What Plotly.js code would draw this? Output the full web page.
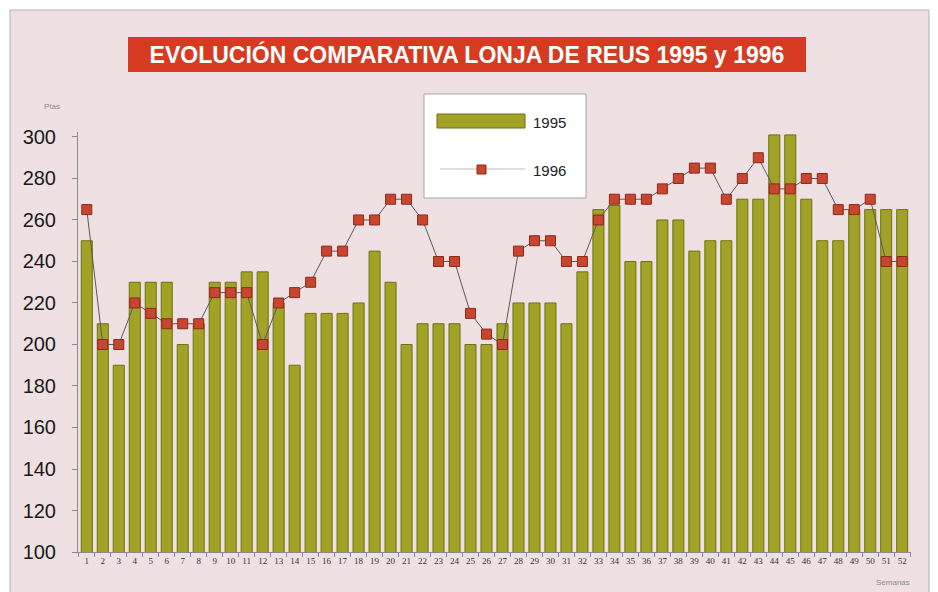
<!DOCTYPE html>
<html>
<head>
<meta charset="utf-8">
<script src="https://cdn.plot.ly/plotly-3.0.1.min.js"></script>
<style>html,body{margin:0;padding:0;background:#fff;}#chart{width:938px;height:592px;}</style>
</head>
<body>
<div id="chart"></div>
<script>
const semanas = Array.from({length: 52}, (_, i) => String(i + 1));
const precios1995 = [250,210,190,230,230,230,200,210,230,230,235,235,220,190,215,215,215,220,245,230,
  200,210,210,210,200,200,210,220,220,220,210,235,265,267,240,240,260,260,245,250,
  250,270,270,301,301,270,250,250,265,265,265,265];
const precios1996 = [265,200,200,220,215,210,210,210,225,225,225,200,220,225,230,245,245,260,260,270,
  270,260,240,240,215,205,200,245,250,250,240,240,260,270,270,270,275,280,285,285,
  270,280,290,275,275,280,280,265,265,270,240,240];
const yTicks = [100,120,140,160,180,200,220,240,260,280,300];
const titulo = 'EVOLUCIÓN COMPARATIVA LONJA DE REUS 1995 y 1996';
const serie1 = '1995', serie2 = '1996';

// pixel -> paper helpers (plot area: x 78..911, y 132..552)
const L = 78, R = 27, T = 132, B = 40, W = 938, H = 592;
const pw = W - L - R, ph = H - T - B;
const px = x => (x - L) / pw;
const py = y => (H - B - y) / ph;

const barColor = '#a2a326', barLine = '#6f7012';
const markColor = '#c9452d', markLine = '#8a2b1b';

const traces = [
  {type: 'bar', name: serie1, x: semanas, y: precios1995,
   marker: {color: barColor, line: {color: barLine, width: 1}}, showlegend: false, hoverinfo: 'x+y'},
  {type: 'scatter', mode: 'lines+markers', name: serie2, x: semanas, y: precios1996,
   line: {color: '#5a5a5a', width: 1},
   marker: {symbol: 'square', size: 10, color: markColor, line: {color: markLine, width: 1}},
   showlegend: false, cliponaxis: false}
];

const layout = {
  width: W, height: H,
  margin: {l: L, r: R, t: T, b: B},
  paper_bgcolor: '#ffffff', plot_bgcolor: 'rgba(0,0,0,0)',
  bargap: 0.31,
  title: {text: '<b>' + titulo + '</b>', x: 467 / W, xanchor: 'center', y: 1 - 55 / H, yanchor: 'middle',
    font: {family: 'Liberation Sans Narrow, Arial Narrow, Liberation Sans, Arial, sans-serif', size: 23, color: '#ffffff'}},
  xaxis: {type: 'category', range: [-0.55, 51.55], tickson: 'boundaries', ticks: 'outside', ticklen: 4,
    tickcolor: '#8a8aa8', showline: true, linecolor: '#8a8a8a', linewidth: 1, showgrid: false, zeroline: false,
    tickfont: {family: 'Liberation Serif, DejaVu Serif, serif', size: 9, color: '#333'}, tickangle: 0,
    fixedrange: true},
  yaxis: {range: [100, 302.4], tickvals: yTicks, ticktext: yTicks.map(String), ticks: 'outside', ticklen: 5,
    tickcolor: '#8a8a8a', showline: true, linecolor: '#8a8a8a', linewidth: 1, showgrid: false, zeroline: false,
    ticklabelstandoff: 12,
    tickfont: {family: 'Liberation Sans, Arial, sans-serif', size: 20, color: '#1a1a1a'}, fixedrange: true},
  shapes: [
    // pink panel
    {type: 'rect', xref: 'paper', yref: 'paper', x0: px(10), x1: px(929), y0: py(594), y1: py(10),
     fillcolor: '#efe1e3', line: {color: '#b9aeb0', width: 1}, layer: 'below'},
    // title box
    {type: 'rect', xref: 'paper', yref: 'paper', x0: px(128), x1: px(806), y0: py(72), y1: py(37),
     fillcolor: '#d63b21', line: {width: 0}, layer: 'below'},
    // legend box
    {type: 'rect', xref: 'paper', yref: 'paper', x0: px(424), x1: px(586), y0: py(198), y1: py(94),
     fillcolor: '#ffffff', line: {color: '#a5a5a5', width: 1}, layer: 'above'},
    // legend bar swatch
    {type: 'rect', xref: 'paper', yref: 'paper', x0: px(437), x1: px(525), y0: py(128), y1: py(114),
     fillcolor: barColor, line: {color: barLine, width: 1}, layer: 'above'},
    // legend line swatch
    {type: 'line', xref: 'paper', yref: 'paper', x0: px(440), x1: px(525), y0: py(169), y1: py(169),
     line: {color: '#bdbdbd', width: 1}, layer: 'above'},
    {type: 'rect', xref: 'paper', yref: 'paper', x0: px(477), x1: px(486), y0: py(174), y1: py(165),
     fillcolor: markColor, line: {color: markLine, width: 1}, layer: 'above'}
  ],
  annotations: [
    {xref: 'paper', yref: 'paper', x: px(531), y: py(122), xanchor: 'left', yanchor: 'middle', showarrow: false,
     text: serie1, font: {family: 'Liberation Sans, Arial, sans-serif', size: 15, color: '#222'}},
    {xref: 'paper', yref: 'paper', x: px(531), y: py(170), xanchor: 'left', yanchor: 'middle', showarrow: false,
     text: serie2, font: {family: 'Liberation Sans, Arial, sans-serif', size: 15, color: '#222'}},
    {xref: 'paper', yref: 'paper', x: px(52), y: py(106), xanchor: 'center', yanchor: 'middle', showarrow: false,
     text: 'Ptas', font: {family: 'Liberation Sans, Arial, sans-serif', size: 8, color: '#8c8c8c'}},
    {xref: 'paper', yref: 'paper', x: px(893), y: py(582), xanchor: 'center', yanchor: 'middle', showarrow: false,
     text: 'Semanas', font: {family: 'Liberation Sans, Arial, sans-serif', size: 8, color: '#8c8c8c'}}
  ]
};

Plotly.newPlot('chart', traces, layout, {displayModeBar: false, staticPlot: true});
</script>
</body>
</html>
